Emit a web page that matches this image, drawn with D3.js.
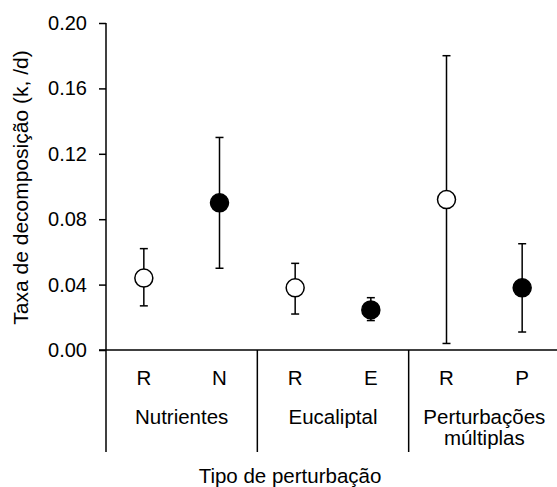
<!DOCTYPE html>
<html>
<head>
<meta charset="utf-8">
<script src="https://cdn.jsdelivr.net/npm/d3@7"></script>
<style>
  html, body { margin: 0; padding: 0; background: #fff; }
  svg { display: block; }
  text { font-family: Arial, "Liberation Sans", sans-serif; fill: #000; }
</style>
</head>
<body>
<svg id="chart" width="557" height="487"></svg>
<script>
// ---- data ----
const groups = ["Nutrientes", "Eucaliptal", "Perturbações múltiplas"];
const treatments = ["R", "N", "R", "E", "R", "P"];
const groupOf = [0, 0, 1, 1, 2, 2];
const means = [0.044, 0.090, 0.038, 0.0245, 0.092, 0.038];
const lower = [0.027, 0.050, 0.022, 0.018, 0.004, 0.011];
const upper = [0.062, 0.130, 0.053, 0.032, 0.180, 0.065];
const filled = [false, true, false, true, false, true];
const yTicks = [0, 0.04, 0.08, 0.12, 0.16, 0.20];
const yTitle = "Taxa de decomposição (k, /d)";
const xTitle = "Tipo de perturbação";

(function () {
// ---- layout ----
const svg = d3.select("#chart");
const mLeft = 106, mRight = 560, mTop = 23, mBottom = 350, lowerEdge = 452;
const fs = 20.5;

const idx = d3.range(treatments.length);
const x = d3.scaleBand().domain(idx).range([mLeft, mRight]).padding(0);
const xg = d3.scaleBand().domain(d3.range(groups.length)).range([mLeft, mRight]).padding(0);
const y = d3.scaleLinear().domain([0, 0.2]).range([mBottom, mTop]);

// y axis
const yAxis = d3.axisLeft(y).tickValues(yTicks).tickFormat(d3.format(".2f")).tickSizeInner(7).tickSizeOuter(0).tickPadding(12);
const gy = svg.append("g").attr("transform", `translate(${mLeft},0)`).call(yAxis);
gy.select(".domain").remove();
gy.selectAll(".tick line").attr("stroke", "#000").attr("stroke-width", 1.5);
gy.selectAll(".tick text").style("font-size", "20px").style("font-family", "Arial, 'Liberation Sans', sans-serif");

// y axis line extended down through label area
svg.append("line").attr("x1", mLeft).attr("x2", mLeft).attr("y1", y(0.2)).attr("y2", lowerEdge)
  .attr("stroke", "#000").attr("stroke-width", 1.5);
// x axis line
svg.append("line").attr("x1", mLeft - 7).attr("x2", mRight).attr("y1", y(0)).attr("y2", y(0))
  .attr("stroke", "#000").attr("stroke-width", 1.5);

// group dividers
svg.selectAll("line.div").data(d3.range(1, groups.length)).enter().append("line")
  .attr("class", "div")
  .attr("x1", d => xg(d)).attr("x2", d => xg(d))
  .attr("y1", y(0)).attr("y2", lowerEdge)
  .attr("stroke", "#000").attr("stroke-width", 1.5);

// treatment labels
svg.selectAll("text.trt").data(idx).enter().append("text")
  .attr("class", "trt")
  .attr("x", d => x(d) + x.bandwidth() / 2)
  .attr("y", 385)
  .attr("text-anchor", "middle")
  .style("font-size", fs + "px")
  .text(d => treatments[d]);

// group labels (wrapped)
const groupLines = [["Nutrientes"], ["Eucaliptal"], ["Perturbações", "múltiplas"]];
groups.forEach((g, i) => {
  const t = svg.append("text")
    .attr("x", xg(i) + xg.bandwidth() / 2)
    .attr("y", 424)
    .attr("text-anchor", "middle")
    .style("font-size", fs + "px");
  groupLines[i].forEach((ln, j) => {
    t.append("tspan").attr("x", xg(i) + xg.bandwidth() / 2).attr("dy", j === 0 ? 0 : 21).text(ln);
  });
});

// error bars
const cap = 4;
const eb = svg.selectAll("g.eb").data(idx).enter().append("g").attr("class", "eb");
eb.append("line")
  .attr("x1", d => x(d) + x.bandwidth() / 2).attr("x2", d => x(d) + x.bandwidth() / 2)
  .attr("y1", d => y(upper[d])).attr("y2", d => y(lower[d]))
  .attr("stroke", "#000").attr("stroke-width", 1.5);
eb.append("line")
  .attr("x1", d => x(d) + x.bandwidth() / 2 - cap).attr("x2", d => x(d) + x.bandwidth() / 2 + cap)
  .attr("y1", d => y(upper[d])).attr("y2", d => y(upper[d]))
  .attr("stroke", "#000").attr("stroke-width", 1.5);
eb.append("line")
  .attr("x1", d => x(d) + x.bandwidth() / 2 - cap).attr("x2", d => x(d) + x.bandwidth() / 2 + cap)
  .attr("y1", d => y(lower[d])).attr("y2", d => y(lower[d]))
  .attr("stroke", "#000").attr("stroke-width", 1.5);

// points
svg.selectAll("circle.pt").data(idx).enter().append("circle")
  .attr("class", "pt")
  .attr("cx", d => x(d) + x.bandwidth() / 2)
  .attr("cy", d => y(means[d]))
  .attr("r", 9)
  .attr("fill", d => filled[d] ? "#000" : "#fff")
  .attr("stroke", "#000").attr("stroke-width", 1.5);

// axis titles
svg.append("text")
  .attr("transform", `translate(28,${(mTop + mBottom) / 2 + 1}) rotate(-90)`)
  .attr("text-anchor", "middle")
  .style("font-size", "21px")
  .text(yTitle);

svg.append("text")
  .attr("x", 290).attr("y", 483)
  .attr("text-anchor", "middle")
  .style("font-size", fs + "px")
  .text(xTitle);
})();
</script>
</body>
</html>
